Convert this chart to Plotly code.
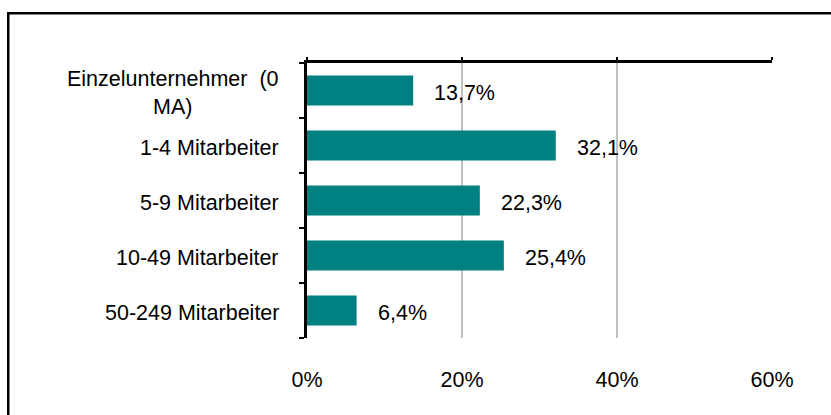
import plotly.graph_objects as go

# Unternehmensgröße nach Mitarbeiterzahl, Anteil in Prozent
categories = [
    "Einzelunternehmer  (0<br>MA)",
    "1-4 Mitarbeiter",
    "5-9 Mitarbeiter",
    "10-49 Mitarbeiter",
    "50-249 Mitarbeiter",
]
shares = [13.7, 32.1, 22.3, 25.4, 6.4]
x_ticks = [0, 20, 40, 60]
x_tick_labels = ["0%", "20%", "40%", "60%"]

FONT = "Liberation Sans, Arial, sans-serif"
TEAL = "#008080"
FS = 21.5

W, H = 831, 415
ML, MR, MT, MB = 307, 59, 63, 77
PW, PH = W - ML - MR, H - MT - MB

fig = go.Figure()

fig.add_trace(go.Bar(
    x=shares,
    y=list(range(len(categories))),
    orientation="h",
    marker=dict(color=TEAL, line=dict(width=0)),
    hoverinfo="skip",
    showlegend=False,
))

# invisible trace so the top value axis (line + ticks) is drawn
fig.add_trace(go.Scatter(
    x=[0, 60], y=[0, 0], xaxis="x2", mode="none",
    hoverinfo="skip", showlegend=False,
))

annotations = []
# value labels, comma as decimal separator
for i, v in enumerate(shares):
    annotations.append(dict(
        x=v, y=i, xref="x", yref="y",
        text=f"{v:.1f}".replace(".", ",") + "%",
        xanchor="left", yanchor="middle", xshift=19, yshift=-2,
        showarrow=False, font=dict(family=FONT, size=FS, color="black"),
    ))

# category labels, right edge next to the axis, lines centered
for i, c in enumerate(categories):
    annotations.append(dict(
        x=0, y=i, xref="paper", yref="y",
        text=c, xanchor="right", yanchor="middle", align="center",
        xshift=-26, yshift=-2,
        showarrow=False, font=dict(family=FONT, size=FS, color="black"),
    ))

# outer frame: top and left edges as thin filled bars
def px_x(p):
    return (p - ML) / PW

def px_y(p):
    return 1 - (p - MT) / PH

shapes = [
    dict(type="rect", xref="paper", yref="paper",
         x0=px_x(7), x1=px_x(W), y0=px_y(14.5), y1=px_y(12),
         fillcolor="black", line=dict(width=0)),
    dict(type="rect", xref="paper", yref="paper",
         x0=px_x(7), x1=px_x(9.5), y0=px_y(H), y1=px_y(12),
         fillcolor="black", line=dict(width=0)),
]

fig.update_layout(
    width=W, height=H,
    margin=dict(l=ML, r=MR, t=MT, b=MB, pad=0),
    paper_bgcolor="white", plot_bgcolor="white",
    bargap=0.455,
    font=dict(family=FONT, size=FS, color="black"),
    xaxis=dict(
        range=[0, 60], tickvals=x_ticks, ticktext=x_tick_labels,
        showgrid=True, gridcolor="#c0c0c0", gridwidth=2,
        zeroline=False, showline=False, ticks="",
        ticklabelstandoff=26,
        tickfont=dict(family=FONT, size=FS, color="black"),
        fixedrange=True,
    ),
    xaxis2=dict(
        range=[0, 60], tickvals=x_ticks, overlaying="x", side="top",
        anchor="y", showgrid=False, zeroline=False,
        showline=True, linecolor="black", linewidth=2.5,
        ticks="outside", ticklen=3, tickwidth=2, tickcolor="black",
        showticklabels=False, fixedrange=True,
    ),
    yaxis=dict(
        range=[len(categories) - 0.5, -0.5],
        tickmode="array", tickvals=[i - 0.5 for i in range(len(categories) + 1)],
        showticklabels=False,
        showgrid=False, zeroline=False,
        showline=True, linecolor="black", linewidth=2.5,
        ticks="outside", ticklen=5, tickwidth=2, tickcolor="black",
        fixedrange=True,
    ),
    annotations=annotations,
    shapes=shapes,
)

fig.write_html("out.html", config={"displayModeBar": False})
